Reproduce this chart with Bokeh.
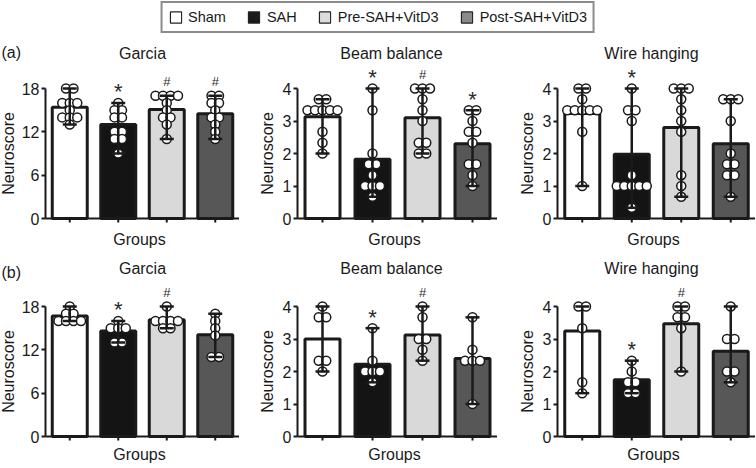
from bokeh.plotting import figure
from bokeh.layouts import column, row
from bokeh.models import Range1d, FixedTicker, Legend, LegendItem
from bokeh.core.properties import value
from bokeh.embed import file_html
from bokeh.resources import INLINE

FONT = "Liberation Sans"
INK = "#1a1a1a"

GROUPS = ["Sham", "SAH", "Pre-SAH+VitD3", "Post-SAH+VitD3"]
X = [1, 2, 3, 4]
BAR_FILLS = ["#ffffff", "#141414", "#d9d9d9", "#575757"]
LEGEND_FILLS = ["#ffffff", "#1a1a1a", "#dcdcdc", "#8a8a8a"]

GARCIA_TICKS = [0, 6, 12, 18]
SCORE_TICKS = [0, 1, 2, 3, 4]

# ---------------- (a) ----------------
garcia_a_mean = [15.4, 13.0, 15.1, 14.5]
garcia_a_sham = [18, 18, 16, 16, 16, 15, 14, 14, 14, 13]
garcia_a_sah = [16, 15, 15, 14, 14, 12, 12, 11, 11, 9]
garcia_a_pre = [17, 17, 17, 17, 16, 15, 14, 14, 13, 11]
garcia_a_post = [17, 17, 16, 16, 15, 14, 14, 13, 12, 11]
garcia_a_marks = ["", "*", "#", "#"]

beam_a_mean = [3.13, 1.82, 3.1, 2.3]
beam_a_sham = [11/3, 11/3, 10/3, 10/3, 10/3, 10/3, 10/3, 8/3, 7/3, 2]
beam_a_sah = [4, 10/3, 2, 5/3, 5/3, 4/3, 1, 1, 1, 2/3]
beam_a_pre = [4, 4, 4, 11/3, 10/3, 3, 7/3, 7/3, 2, 2]
beam_a_post = [10/3, 10/3, 3, 8/3, 8/3, 7/3, 5/3, 5/3, 4/3, 1]
beam_a_marks = ["", "*", "#", "*"]

wire_a_mean = [3.23, 1.98, 2.8, 2.3]
wire_a_sham = [4, 4, 11/3, 10/3, 10/3, 10/3, 10/3, 10/3, 8/3, 1]
wire_a_sah = [4, 10/3, 10/3, 3, 4/3, 1, 1, 1, 1, 1, 1/3]
wire_a_pre = [4, 4, 4, 11/3, 10/3, 3, 8/3, 4/3, 1, 2/3]
wire_a_post = [11/3, 11/3, 11/3, 3, 2, 5/3, 5/3, 4/3, 4/3, 2/3]
wire_a_marks = ["", "*", "", ""]

# ---------------- (b) ----------------
garcia_b_mean = [16.7, 14.6, 16.15, 14.1]
garcia_b_sham = [18, 17, 17, 16, 16, 16, 16]
garcia_b_sah = [16, 15, 15, 15, 13, 13]
garcia_b_pre = [18, 16, 16, 16, 16, 15, 15]
garcia_b_post = [17, 16, 15, 14, 11, 11]
garcia_b_marks = ["", "*", "#", ""]

beam_b_mean = [3.0, 2.22, 3.12, 2.4]
beam_b_sham = [4, 11/3, 11/3, 7/3, 7/3, 2]
beam_b_sah = [10/3, 7/3, 2, 2, 2, 5/3]
beam_b_pre = [4, 11/3, 3, 3, 8/3, 7/3]
beam_b_post = [11/3, 8/3, 7/3, 7/3, 7/3, 1]
beam_b_marks = ["", "*", "#", ""]

wire_b_mean = [3.25, 1.75, 3.47, 2.62]
wire_b_sham = [4, 4, 10/3, 5/3, 4/3]
wire_b_sah = [7/3, 2, 5/3, 5/3, 4/3, 4/3]
wire_b_pre = [4, 4, 11/3, 11/3, 10/3, 2]
wire_b_post = [4, 3, 3, 2, 2, 5/3]
wire_b_marks = ["", "*", "#", ""]


def panel(title, means, pts, marks, ticks, left_px, plot_w, above0, below0,
          plot_h, title_dy, title_dx, groups_dy, ylabel_standoff,
          tag=None, tag_dy=0):
    """One bar panel.  The frame covers the whole figure; the y axis is
    pinned at x=0.5 so that texts left of it stay drawable."""
    tick_len = 4
    top_tick = ticks[-1]
    px_x = plot_w / 4.0
    px_y = plot_h / top_tick
    x_start = 0.5 - left_px / px_x
    y_end = above0 / px_y
    y_start = -below0 / px_y
    p = figure(frame_width=left_px + plot_w, frame_height=above0 + below0,
               x_range=Range1d(x_start, 4.5), y_range=Range1d(y_start, y_end),
               x_axis_location=None, y_axis_location="left",
               toolbar_location=None, output_backend="svg",
               min_border=0, outline_line_color=None,
               background_fill_color="white", border_fill_color="white")
    p.grid.visible = False

    p.vbar(x=X, top=means, bottom=0, width=35 / px_x, fill_color=BAR_FILLS,
           line_color=INK, line_width=3)

    # x axis baseline and its tick marks at the group positions
    p.segment(x0=[0.5], y0=[0], x1=[4.5], y1=[0], line_color=INK,
              line_width=2)
    p.segment(x0=X, y0=[0] * 4, x1=X, y1=[-tick_len / px_y] * 4,
              line_color=INK, line_width=2)

    # scatter points, equal values spread symmetrically
    step = 7.5 / px_x
    xs, ys = [], []
    for xi, vals in zip(X, pts):
        keys = sorted(set(round(v, 3) for v in vals), reverse=True)
        for kv in keys:
            same = [v for v in vals if round(v, 3) == kv]
            k = len(same)
            for j, v in enumerate(same):
                xs.append(xi + (j - (k - 1) / 2) * step)
                ys.append(v)
    p.scatter(x=xs, y=ys, size=9, marker="circle", fill_color="white",
              line_color=INK, line_width=1.5)

    lo = [min(v) for v in pts]
    hi = [max(v) for v in pts]
    cap = 7 / px_x
    p.segment(x0=X, y0=lo, x1=X, y1=hi, line_color=INK, line_width=2.5)
    p.segment(x0=[x - cap for x in X], y0=hi, x1=[x + cap for x in X], y1=hi,
              line_color=INK, line_width=2.5)
    p.segment(x0=[x - cap for x in X], y0=lo, x1=[x + cap for x in X], y1=lo,
              line_color=INK, line_width=2.5)

    for sym, fsize, dy in (("*", "22px", -11), ("#", "13px", -14)):
        xx = [x for x, m in zip(X, marks) if m == sym]
        yy = [h for h, m in zip(hi, marks) if m == sym]
        if xx:
            p.text(x=xx, y=yy, text=[sym] * len(xx), text_align="center",
                   text_baseline="alphabetic", y_offset=dy,
                   text_font=value(FONT), text_font_size=fsize,
                   text_color="#2a2a2a")

    common = dict(text_font=value(FONT), text_font_size="16px",
                  text_color=INK)
    p.text(x=[2.5], y=[y_end], text=[title], text_align="center",
           text_baseline="top", x_offset=title_dx, y_offset=title_dy,
           **common)
    p.text(x=[2.5], y=[0], text=["Groups"], text_align="center",
           text_baseline="top", x_offset=-3, y_offset=groups_dy, **common)
    if tag:
        p.text(x=[x_start], y=[y_end], text=[tag], text_align="left",
               text_baseline="alphabetic", x_offset=1, y_offset=tag_dy,
               **common)

    ax = p.yaxis[0]
    ax.fixed_location = 0.5
    ax.ticker = FixedTicker(ticks=ticks)
    ax.bounds = (0, top_tick)
    ax.axis_label = "Neuroscore"
    ax.axis_label_standoff = ylabel_standoff
    ax.major_label_standoff = 2
    ax.axis_line_color = INK
    ax.axis_line_width = 2
    ax.major_tick_line_color = INK
    ax.major_tick_line_width = 2
    ax.major_tick_out = tick_len
    ax.major_tick_in = 0
    ax.minor_tick_out = 0
    ax.minor_tick_in = 0
    ax.major_label_text_font = FONT
    ax.major_label_text_font_size = "16px"
    ax.major_label_text_color = INK
    ax.axis_label_text_font = FONT
    ax.axis_label_text_font_size = "16px"
    ax.axis_label_text_font_style = "normal"
    ax.axis_label_text_color = INK
    return p


# layout constants (px)
PLOT_H = 130
A_ABOVE0, A_BELOW0 = 184, 31
B_ABOVE0, B_BELOW0 = 187, 28

row_a = row(
    panel("Garcia", garcia_a_mean,
          [garcia_a_sham, garcia_a_sah, garcia_a_pre, garcia_a_post],
          garcia_a_marks, GARCIA_TICKS, 45, 194, A_ABOVE0, A_BELOW0, PLOT_H,
          10, 0, 12, 2, tag="(a)", tag_dy=18),
    panel("Beam balance", beam_a_mean,
          [beam_a_sham, beam_a_sah, beam_a_pre, beam_a_post],
          beam_a_marks, SCORE_TICKS, 58, 200, A_ABOVE0, A_BELOW0, PLOT_H,
          10, -6, 12, 4),
    panel("Wire hanging", wire_a_mean,
          [wire_a_sham, wire_a_sah, wire_a_pre, wire_a_post],
          wire_a_marks, SCORE_TICKS, 60, 198, A_ABOVE0, A_BELOW0, PLOT_H,
          10, -5, 12, 4),
)

row_b = row(
    panel("Garcia", garcia_b_mean,
          [garcia_b_sham, garcia_b_sah, garcia_b_pre, garcia_b_post],
          garcia_b_marks, GARCIA_TICKS, 45, 194, B_ABOVE0, B_BELOW0, PLOT_H,
          10, 0, 9, 2, tag="(b)", tag_dy=23),
    panel("Beam balance", beam_b_mean,
          [beam_b_sham, beam_b_sah, beam_b_pre, beam_b_post],
          beam_b_marks, SCORE_TICKS, 58, 200, B_ABOVE0, B_BELOW0, PLOT_H,
          10, -6, 9, 4),
    panel("Wire hanging", wire_b_mean,
          [wire_b_sham, wire_b_sah, wire_b_pre, wire_b_post],
          wire_b_marks, SCORE_TICKS, 60, 198, B_ABOVE0, B_BELOW0, PLOT_H,
          10, -5, 9, 4),
)

# legend strip
lf = figure(width=755, height=34, x_range=Range1d(0, 1), y_range=Range1d(0, 1),
            x_axis_location=None, y_axis_location=None, min_border=0,
            outline_line_color=None, toolbar_location=None,
            output_backend="svg")
lf.grid.visible = False
items = []
for name, col in zip(GROUPS, LEGEND_FILLS):
    r = lf.rect(x=[-5], y=[-5], width=1, height=1, fill_color=col,
                line_color="#222222", line_width=1.2)
    items.append(LegendItem(label=name, renderers=[r]))
leg = Legend(items=items, orientation="horizontal", location="top_center",
             margin=1, padding=6, spacing=21, label_standoff=6,
             glyph_width=14, glyph_height=14, label_height=14,
             label_text_font=FONT, label_text_font_size="14.5px",
             label_text_color=INK, border_line_color=INK,
             border_line_width=2, background_fill_color="white")
lf.add_layout(leg)

p = column(lf, row_a, row_b)
open("out.html", "w").write(file_html(p, INLINE))
